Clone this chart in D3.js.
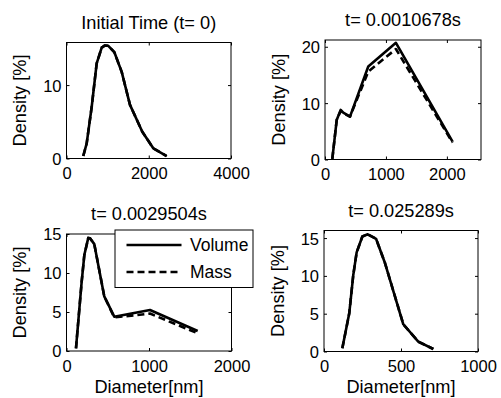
<!DOCTYPE html>
<html>
<head>
<meta charset="utf-8">
<script src="https://cdn.jsdelivr.net/npm/d3@7"></script>
<style>
html,body{margin:0;padding:0;background:#fff;}
svg{display:block;}
text{font-family:"Liberation Sans",Arial,Helvetica,sans-serif;fill:#000;}
</style>
</head>
<body>
<svg id="chart" width="501" height="398"></svg>
<script>
// ---- data ----
const titles = ["Initial Time (t= 0)", "t= 0.0010678s", "t= 0.0029504s", "t= 0.025289s"];

const p1Diam   = [408, 491, 613, 734, 856, 936, 1016, 1162, 1342, 1544, 1843, 2110, 2436];
const p1Volume = [0.34, 2.07, 7.05, 12.95, 15.1, 15.4, 15.35, 14.5, 11.8, 7.3, 3.65, 1.39, 0.34];
const p1Mass   = [0.34, 2.07, 7.05, 12.95, 15.1, 15.4, 15.35, 14.5, 11.8, 7.3, 3.65, 1.39, 0.34];

const p2Diam   = [120, 192, 257, 300, 410, 710, 1164, 2093];
const p2Volume = [0.1, 7.0, 8.8, 8.3, 7.6, 16.5, 20.7, 3.16];
const p2Mass   = [0.1, 7.0, 8.6, 8.2, 7.6, 15.6, 19.6, 3.0];

const p3Diam   = [115, 184, 216, 264, 285, 337, 458, 579, 1012, 1590];
const p3Volume = [0.35, 8.9, 12.3, 14.5, 14.45, 13.7, 7.0, 4.4, 5.25, 2.56];
const p3Mass   = [0.35, 8.9, 12.3, 14.5, 14.45, 13.7, 7.0, 4.3, 4.8, 2.27];

const p4Diam   = [119, 164, 190, 212, 249, 284, 338, 396, 515, 612, 710];
const p4Volume = [0.42, 5.05, 10.1, 13.1, 15.2, 15.5, 14.9, 11.7, 3.6, 1.3, 0.33];
const p4Mass   = [0.42, 5.05, 10.1, 13.1, 15.2, 15.5, 14.9, 11.7, 3.6, 1.3, 0.33];

const xDomains = [[0, 4000], [0, 2560], [0, 2000], [0, 1000]];
const yDomains = [[0, 15.8], [0, 21.2], [0, 15], [0, 16]];
const xTicks = [[0, 2000, 4000], [0, 1000, 2000], [0, 1000, 2000], [0, 500, 1000]];
const yTicks = [[0, 10], [0, 10, 20], [0, 5, 10, 15], [0, 5, 10, 15]];
const seriesNames = ["Volume", "Mass"];

// ---- layout ----
const boxes = [
  {l: 66.5, r: 231, t: 42.5, b: 158.5},
  {l: 325, r: 481, t: 40, b: 159.5},
  {l: 66.5, r: 231.5, t: 234, b: 351},
  {l: 324, r: 478, t: 230.5, b: 351.5}
];
const panels = [
  {x: p1Diam, v: p1Volume, m: p1Mass},
  {x: p2Diam, v: p2Volume, m: p2Mass},
  {x: p3Diam, v: p3Volume, m: p3Mass},
  {x: p4Diam, v: p4Volume, m: p4Mass}
];

const svg = d3.select("#chart");
const tickFont = 16.5, labFont = 18.2, tickLen = 3;
const dash = "7,4";

panels.forEach((p, i) => {
  const bx = boxes[i];
  const x = d3.scaleLinear().domain(xDomains[i]).range([bx.l, bx.r]);
  const y = d3.scaleLinear().domain(yDomains[i]).range([bx.b, bx.t]);
  const g = svg.append("g");

  const cid = "clip" + i;
  svg.append("clipPath").attr("id", cid).append("rect")
    .attr("x", bx.l).attr("y", bx.t).attr("width", bx.r - bx.l).attr("height", bx.b - bx.t);

  const axB = d3.axisBottom(x).tickValues(xTicks[i]).tickSize(-tickLen).tickFormat(d3.format("d"));
  const axT = d3.axisTop(x).tickValues(xTicks[i]).tickSize(-tickLen).tickFormat("");
  const axL = d3.axisLeft(y).tickValues(yTicks[i]).tickSize(-tickLen).tickFormat(d3.format("d"));
  const axR = d3.axisRight(y).tickValues(yTicks[i]).tickSize(-tickLen).tickFormat("");

  const gb = g.append("g").attr("transform", `translate(0,${bx.b})`).call(axB);
  gb.selectAll("text").attr("y", 20.5).attr("dy", 0).style("font-size", tickFont + "px");
  const gt = g.append("g").attr("transform", `translate(0,${bx.t})`).call(axT);
  const gl = g.append("g").attr("transform", `translate(${bx.l},0)`).call(axL);
  gl.selectAll("text").attr("x", -5).attr("dy", "0.36em").style("font-size", tickFont + "px");
  const gr = g.append("g").attr("transform", `translate(${bx.r},0)`).call(axR);
  [gb, gt, gl, gr].forEach(a => {
    a.select(".domain").remove();
    a.selectAll("line").attr("stroke", "#000").attr("stroke-width", 1);
    a.attr("font-family", null);
  });

  g.append("rect").attr("x", bx.l).attr("y", bx.t).attr("width", bx.r - bx.l).attr("height", bx.b - bx.t)
    .attr("fill", "none").attr("stroke", "#000").attr("stroke-width", 1);

  const line = d3.line().x(d => x(d[0])).y(d => y(d[1]));
  const cg = g.append("g").attr("clip-path", `url(#${cid})`);
  cg.append("path").datum(p.x.map((d, k) => [d, p.m[k]])).attr("d", line)
    .attr("fill", "none").attr("stroke", "#000").attr("stroke-width", 2.6)
    .attr("stroke-dasharray", dash).attr("stroke-linejoin", "round");
  cg.append("path").datum(p.x.map((d, k) => [d, p.v[k]])).attr("d", line)
    .attr("fill", "none").attr("stroke", "#000").attr("stroke-width", 2.6)
    .attr("stroke-linejoin", "round");

  g.append("text").attr("x", (bx.l + bx.r) / 2).attr("y", bx.t - 14)
    .attr("text-anchor", "middle").style("font-size", labFont + "px").text(titles[i]);

  const yl = bx.l - 40.5, yc = (bx.t + bx.b) / 2;
  g.append("text").attr("transform", `translate(${yl},${yc}) rotate(-90)`)
    .attr("text-anchor", "middle").style("font-size", labFont + "px").text("Density [%]");

  if (i >= 2) {
    g.append("text").attr("x", (bx.l + bx.r) / 2).attr("y", 393)
      .attr("text-anchor", "middle").style("font-size", labFont + "px").text("Diameter[nm]");
  }
});

// legend in panel 3
const lg = svg.append("g");
lg.append("rect").attr("x", 115).attr("y", 230).attr("width", 138).attr("height", 57.5)
  .attr("fill", "#fff").attr("stroke", "#000").attr("stroke-width", 1);
const legY = [245, 272];
seriesNames.forEach((n, k) => {
  lg.append("line").attr("x1", 126.5).attr("x2", 181.5).attr("y1", legY[k]).attr("y2", legY[k])
    .attr("stroke", "#000").attr("stroke-width", 2.6)
    .attr("stroke-dasharray", k === 1 ? dash : null);
  lg.append("text").attr("x", 190).attr("y", legY[k]).attr("dy", "0.36em")
    .style("font-size", "17.5px").text(n);
});
</script>
</body>
</html>
